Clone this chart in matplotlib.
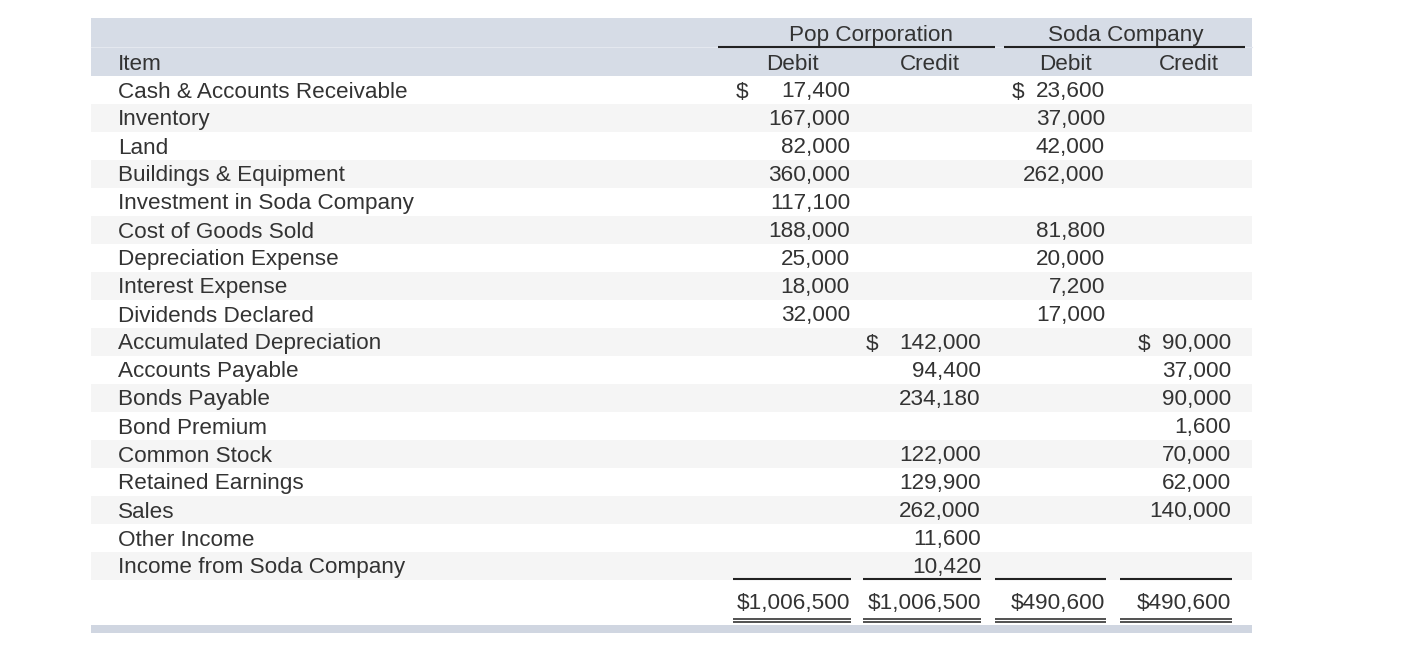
import matplotlib.pyplot as plt
from matplotlib.patches import Rectangle

plt.rcParams["font.family"] = ["Liberation Sans", "DejaVu Sans"]

# =========================
# data
# =========================
items = [
    "Cash & Accounts Receivable", "Inventory", "Land", "Buildings & Equipment",
    "Investment in Soda Company", "Cost of Goods Sold", "Depreciation Expense",
    "Interest Expense", "Dividends Declared", "Accumulated Depreciation",
    "Accounts Payable", "Bonds Payable", "Bond Premium", "Common Stock",
    "Retained Earnings", "Sales", "Other Income", "Income from Soda Company",
]
pop_debit = [17400, 167000, 82000, 360000, 117100, 188000, 25000, 18000, 32000,
             None, None, None, None, None, None, None, None, None]
pop_credit = [None, None, None, None, None, None, None, None, None,
              142000, 94400, 234180, None, 122000, 129900, 262000, 11600, 10420]
soda_debit = [23600, 37000, 42000, 262000, None, 81800, 20000, 7200, 17000,
              None, None, None, None, None, None, None, None, None]
soda_credit = [None, None, None, None, None, None, None, None, None,
               90000, 37000, 90000, 1600, 70000, 62000, 140000, None, None]
totals = [1006500, 1006500, 490600, 490600]

companies = ["Pop Corporation", "Soda Company"]
sub_headers = ["Debit", "Credit", "Debit", "Credit"]

# =========================
# layout (pixels)
# =========================
W, H = 1418, 669
X0, X1 = 91, 1252
HEAD_TOP, HEAD_MID, HEAD_BOT = 18, 47, 76
ROW_H = 28
TXT = "#333333"
FS = 16.2
DY = 2  # text baseline nudge

# right edge of numbers, x of "$", column line span
cols = [
    dict(right=850, dollar=736, line=(733, 851), head=792),
    dict(right=981, dollar=866, line=(863, 981), head=930),
    dict(right=1105, dollar=1012, line=(995, 1106), head=1065),
    dict(right=1231, dollar=1138, line=(1120, 1232), head=1189),
]
company_spans = [(718, 995), (1004, 1245)]
company_centers = [871, 1126]

fig = plt.figure(figsize=(W / 100, H / 100), dpi=100)
ax = fig.add_axes([0, 0, 1, 1])
ax.set_xlim(0, W)
ax.set_ylim(H, 0)
ax.axis("off")

# header background
ax.add_patch(Rectangle((X0, HEAD_TOP), X1 - X0, HEAD_BOT - HEAD_TOP,
                       facecolor="#d6dce6", edgecolor="none"))
ax.plot([X0, X1], [HEAD_MID, HEAD_MID], color="#e4e8ef", lw=0.8)

for (a, b), xc, name in zip(company_spans, company_centers, companies):
    ax.text(xc, 33 + DY, name, ha="center", va="center", fontsize=FS, color=TXT)
    ax.plot([a, b], [46.5, 46.5], color="#222222", lw=1.5, solid_capstyle="butt")

for c, lab in zip(cols, sub_headers):
    ax.text(c["head"], 62 + DY, lab, ha="center", va="center", fontsize=FS, color=TXT)
ax.text(118, 62 + DY, "Item", ha="left", va="center", fontsize=FS, color=TXT)

# body
series = [pop_debit, pop_credit, soda_debit, soda_credit]
first_seen = [False] * 4
for i, name in enumerate(items):
    top = HEAD_BOT + i * ROW_H
    if i % 2 == 1:
        ax.add_patch(Rectangle((X0, top), X1 - X0, ROW_H,
                               facecolor="#f5f5f5", edgecolor="none"))
    yc = top + ROW_H / 2 + DY
    ax.text(118, yc, name, ha="left", va="center", fontsize=FS, color=TXT)
    for j, (c, vals) in enumerate(zip(cols, series)):
        v = vals[i]
        if v is None:
            continue
        ax.text(c["right"], yc, f"{v:,}", ha="right", va="center", fontsize=FS, color=TXT)
        if not first_seen[j]:
            ax.text(c["dollar"], yc, "$", ha="left", va="center", fontsize=FS, color=TXT)
            first_seen[j] = True

# totals
body_bot = HEAD_BOT + len(items) * ROW_H
for c, t in zip(cols, totals):
    a, b = c["line"]
    ax.plot([a, b], [body_bot - 1.5, body_bot - 1.5], color="#222222", lw=1.5,
            solid_capstyle="butt")
    ax.text(c["right"], 600 + DY + 1, f"${t:,}", ha="right", va="center",
            fontsize=FS, color=TXT)
    for yy in (618.5, 621.5):
        ax.plot([a, b], [yy, yy], color="#222222", lw=1.1, solid_capstyle="butt")

ax.add_patch(Rectangle((X0, 625), X1 - X0, 8, facecolor="#d0d6e1", edgecolor="none"))

fig.savefig("out.png", dpi=100)
